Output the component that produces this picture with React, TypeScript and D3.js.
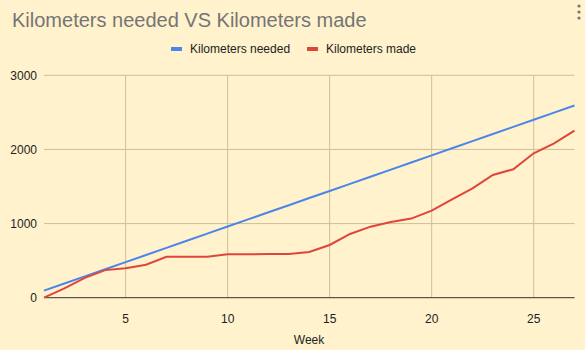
import React from "react";
import * as d3 from "d3";

const weeks = [1,2,3,4,5,6,7,8,9,10,11,12,13,14,15,16,17,18,19,20,21,22,23,24,25,26,27];
const kmNeeded = [96,192,288,384,480,576,672,768,864,960,1056,1152,1248,1344,1440,1536,1632,1728,1824,1920,2016,2112,2208,2304,2400,2496,2592];
const kmMade = [0,125,268,372,397,445,553,553,553,585,587,588,590,617,711,860,958,1022,1067,1175,1328,1476,1656,1733,1948,2083,2254];
const yTicks = [0,1000,2000,3000];
const xTicks = [5,10,15,20,25];
const seriesNames = ["Kilometers needed","Kilometers made"];
const colors = ["#4a86e8","#e0453a"];

export default function App() {
  const W = 585, H = 350;
  const x = d3.scaleLinear().domain([1,27]).range([44,574.5]);
  const y = d3.scaleLinear().domain([0,3000]).range([297.7,75.3]);
  const line = d3.line<number>().x((_, i) => x(weeks[i])).y(d => y(d));
  const font = "'Liberation Sans', Arial, sans-serif";
  return (
    <svg width={W} height={H} style={{position:"absolute",left:0,top:0}} fontFamily={font}>
      <rect width={W} height={H} fill="#fff2cc" />
      <text x={12} y={27} fontSize={20} fill="#757575">Kilometers needed VS Kilometers made</text>
      {[6,12,18].map(cy => <circle key={cy} cx={579} cy={cy} r={1.6} fill="#757575" />)}
      {/* legend */}
      <rect x={171} y={47} width={11} height={4} fill={colors[0]} />
      <text x={190} y={53} fontSize={12} fill="#222">{seriesNames[0]}</text>
      <rect x={307} y={47} width={11} height={4} fill={colors[1]} />
      <text x={326} y={53} fontSize={12} fill="#222">{seriesNames[1]}</text>
      {/* grid */}
      {yTicks.map(t => (
        <g key={"y"+t}>
          {t > 0 && <line x1={44} x2={574.5} y1={y(t)} y2={y(t)} stroke="#cdbf9b" strokeWidth={1} />}
          <text x={37} y={y(t)+4.5} fontSize={12} textAnchor="end" fill="#222">{t}</text>
        </g>
      ))}
      {xTicks.map(t => (
        <g key={"x"+t}>
          <line x1={x(t)} x2={x(t)} y1={75.3} y2={297.7} stroke="#cdbf9b" strokeWidth={1} />
          <text x={x(t)} y={323} fontSize={12} textAnchor="middle" fill="#222">{t}</text>
        </g>
      ))}
      <line x1={44} x2={574.5} y1={297.7} y2={297.7} stroke="#333" strokeWidth={1} />
      <path d={line(kmNeeded) || ""} fill="none" stroke={colors[0]} strokeWidth={2} />
      <path d={line(kmMade) || ""} fill="none" stroke={colors[1]} strokeWidth={2} />
      <text x={309} y={344} fontSize={12} textAnchor="middle" fill="#222">Week</text>
    </svg>
  );
}
